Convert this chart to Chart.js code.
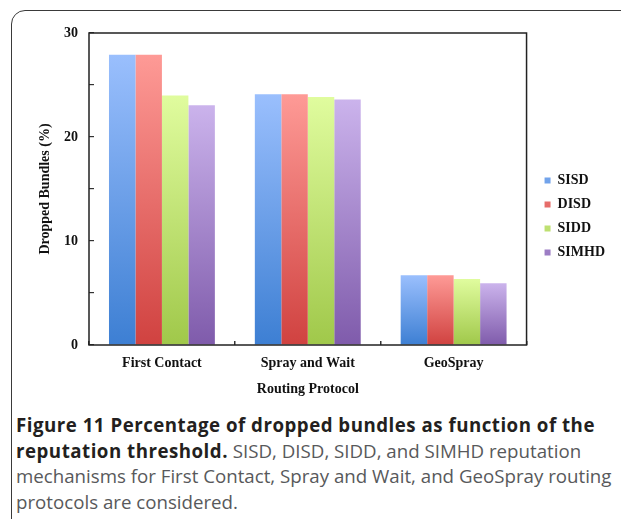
<!DOCTYPE html>
<html>
<head>
<meta charset="utf-8">
<script src="https://cdn.jsdelivr.net/npm/chart.js@4/dist/chart.umd.min.js"></script>
<style>
  html, body { margin: 0; padding: 0; background: #fff; width: 621px; height: 519px; overflow: hidden; }
  #frame { position: absolute; left: 11px; top: 10px; width: 720px; height: 600px;
    border: 1.5px solid #3a3a3a; border-top-left-radius: 14px; }
  #chartBox { position: absolute; left: 0; top: 0; width: 621px; height: 405px; }
  #caption { position: absolute; left: 16px; top: 412px; font-family: 'Open Sans', sans-serif;
    font-size: 18.7px; line-height: 25.5px; color: #58595b; white-space: nowrap; }
  #caption b { color: #231f20; font-weight: 700; letter-spacing: 0.5px; }
</style>
</head>
<body>
<div id="frame"></div>
<div id="chartBox"><canvas id="chart"></canvas></div>
<div id="caption">
  <b>Figure 11 Percentage of dropped bundles as function of the</b><br>
  <b>reputation threshold.</b> SISD, DISD, SIDD, and SIMHD reputation<br>
  mechanisms for First Contact, Spray and Wait, and GeoSpray routing<br>
  protocols are considered.
</div>
<script>
// datos
const protocolos = ['First Contact', 'Spray and Wait', 'GeoSpray'];
const sisd  = [27.9, 24.1, 6.7];
const disd  = [27.9, 24.1, 6.7];
const sidd  = [24.0, 23.85, 6.35];
const simhd = [23.05, 23.6, 5.93];
const yTicks = [0, 10, 20, 30];

const serif = "'Liberation Serif', 'Times New Roman', serif";

// degradado por barra: claro arriba, oscuro abajo
function relleno(top, bottom, mid) {
  return function(c) {
    const chart = c.chart;
    if (c.type !== 'data' || !chart.chartArea) return mid;
    const y = chart.scales.y;
    const y0 = y.getPixelForValue(c.raw);
    const y1 = y.getPixelForValue(0);
    if (!isFinite(y0) || !isFinite(y1) || y0 === y1) return mid;
    const g = chart.ctx.createLinearGradient(0, y0, 0, y1);
    g.addColorStop(0, top);
    g.addColorStop(1, bottom);
    return g;
  };
}

// marco negro alrededor del area de trazado
const marco = {
  id: 'marco',
  afterDraw(chart) {
    const a = chart.chartArea, ctx = chart.ctx;
    ctx.save();
    ctx.strokeStyle = '#222';
    ctx.lineWidth = 1.5;
    ctx.strokeRect(a.left, a.top, a.right - a.left, a.bottom - a.top);
    ctx.restore();
  }
};

new Chart(document.getElementById('chart'), {
  type: 'bar',
  data: {
    labels: protocolos,
    datasets: [
      { label: 'SISD',  data: sisd,  backgroundColor: relleno('#9abffd', '#3d7fd3', '#6a9fea') },
      { label: 'DISD',  data: disd,  backgroundColor: relleno('#fe9a96', '#d04240', '#e86a68') },
      { label: 'SIDD',  data: sidd,  backgroundColor: relleno('#e0fc9e', '#a0c84a', '#c2e27a') },
      { label: 'SIMHD', data: simhd, backgroundColor: relleno('#cbb3ec', '#7f5bab', '#a486cc') }
    ]
  },
  options: {
    responsive: true,
    maintainAspectRatio: false,
    animation: false,
    categoryPercentage: 0.726,
    barPercentage: 1.0,
    layout: { padding: { left: 12, top: 33, right: 6, bottom: 5 } },
    plugins: {
      tooltip: { enabled: false },
      legend: {
        position: 'right',
        labels: {
          boxWidth: 6,
          boxHeight: 6,
          padding: 10,
          color: '#111',
          font: { family: serif, size: 14, weight: 'bold' }
        }
      }
    },
    scales: {
      x: {
        border: { display: false },
        grid: { drawOnChartArea: false, drawTicks: true, tickLength: -4, color: '#333', lineWidth: 1.5 },
        ticks: { color: '#111', padding: 14, font: { family: serif, size: 14, weight: 'bold' } },
        title: { display: true, text: 'Routing Protocol', color: '#111', padding: { top: 0, bottom: 2 },
                 font: { family: serif, size: 14, weight: 'bold' } },
        afterFit(s) { s.height = 55; }
      },
      y: {
        min: 0,
        max: 30,
        border: { display: false },
        grid: { drawOnChartArea: false, drawTicks: true, tickLength: -5, color: '#333', lineWidth: 1.2 },
        ticks: {
          stepSize: 5,
          autoSkip: false,
          color: '#111',
          padding: 16,
          font: { family: serif, size: 14, weight: 'bold' },
          callback: v => yTicks.includes(v) ? v : ''
        },
        title: { display: true, text: 'Dropped Bundles (%)', color: '#111', padding: { top: 25, bottom: 0 },
                 font: { family: serif, size: 14, weight: 'bold' } },
        afterFit(s) { s.width = 77; }
      },
      hueco: {
        position: 'right',
        display: true,
        border: { display: false },
        grid: { display: false },
        ticks: { display: false },
        afterFit(s) { s.width = 8; }
      }
    }
  },
  plugins: [marco]
});
</script>
</body>
</html>
